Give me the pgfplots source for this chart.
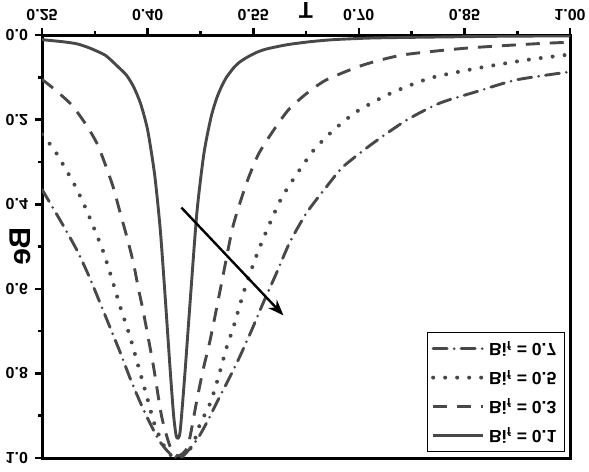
\documentclass[border=0pt]{standalone}
\usepackage{graphicx}
\usepackage{fontspec}
\setmainfont{Liberation Sans}
\usepackage{pgfplots}
\pgfplotsset{compat=1.18}
\usetikzlibrary{arrows.meta}
\definecolor{curve}{RGB}{72,72,72}
\begin{document}
\scalebox{1}[-1]{%
\begin{tikzpicture}
\begin{axis}[
  name=ax,
  scale only axis, width=264pt, height=211.5pt,
  xmin=0.25, xmax=1.0, ymin=0, ymax=1,
  xtick={0.25,0.40,0.55,0.70,0.85,1.00},
  ytick={0,0.2,0.4,0.6,0.8,1.0},
  minor x tick num=1, minor y tick num=1,
  xtick pos=bottom, ytick pos=left,
  tick align=outside,
  major tick length=3.5pt, minor tick length=2.2pt,
  axis line style={line width=1.5pt},
  major tick style={line width=1.3pt, black},
  minor tick style={line width=1.3pt, black},
  /pgf/number format/assume math mode=true,
  tick label style={font=\bfseries\fontsize{8}{9.5}\selectfont},
  xticklabel style={/pgf/number format/fixed, /pgf/number format/fixed zerofill, /pgf/number format/precision=2},
  yticklabel style={/pgf/number format/fixed, /pgf/number format/fixed zerofill, /pgf/number format/precision=1},
  xlabel={T}, ylabel={Be},
  xlabel style={font=\bfseries\fontsize{11.5}{13}\selectfont, at={([yshift=-16.5pt]axis description cs:0.5,0)}, anchor=base},
  ylabel style={font=\bfseries\fontsize{15}{17}\selectfont, at={([xshift=-11pt]axis description cs:0,0.5)}, anchor=center},
  legend style={at={(axis description cs:0.9905,0.9858)}, anchor=north east, draw=black, line width=0.6pt,
    font=\bfseries\fontsize{8.8}{10}\selectfont, row sep=2.6pt, inner sep=2pt},
  legend cell align=left,
  legend image code/.code={\draw[#1] (0pt,0pt) -- (25pt,0pt);},
]
\addplot[curve, line width=1.45pt, smooth, tension=0.4] coordinates {
(0.25,0.011) (0.28,0.016) (0.30,0.021) (0.318,0.031) (0.34,0.048) (0.356,0.072)
(0.37,0.095) (0.38,0.122) (0.39,0.162) (0.40,0.224) (0.41,0.33) (0.418,0.46)
(0.425,0.62) (0.432,0.79) (0.437,0.90) (0.441,0.95) (0.446,0.94) (0.453,0.80)
(0.460,0.64) (0.470,0.42) (0.480,0.28) (0.490,0.195) (0.498,0.150) (0.505,0.122)
(0.512,0.100) (0.522,0.078) (0.530,0.065) (0.541,0.053) (0.555,0.041) (0.569,0.033)
(0.598,0.023) (0.63,0.016) (0.664,0.011) (0.72,0.007) (0.80,0.005) (0.90,0.003) (1.00,0.002)};
\addlegendentry{Bi\textsubscript{f} = 0.1}
\addplot[curve, line width=1.45pt, smooth, tension=0.4, dash pattern=on 7pt off 5pt] coordinates {
(0.25,0.105) (0.266,0.126) (0.292,0.165) (0.313,0.213) (0.328,0.256) (0.339,0.302)
(0.351,0.359) (0.361,0.42) (0.371,0.48) (0.380,0.54) (0.387,0.600) (0.394,0.655)
(0.408,0.78) (0.420,0.902) (0.432,0.973) (0.443,0.995) (0.457,0.973) (0.470,0.863)
(0.479,0.79) (0.489,0.72) (0.505,0.587) (0.52,0.461) (0.531,0.398) (0.543,0.339)
(0.558,0.28) (0.579,0.225) (0.60,0.177) (0.626,0.138) (0.654,0.106) (0.706,0.071)
(0.763,0.047) (0.853,0.031) (0.948,0.021) (1.00,0.017)};
\addlegendentry{Bi\textsubscript{f} = 0.3}
\addplot[curve, line width=2pt, smooth, tension=0.4, line cap=round, dash pattern=on 0pt off 6pt] coordinates {
(0.25,0.235) (0.266,0.268) (0.276,0.295) (0.294,0.347) (0.309,0.398) (0.323,0.453)
(0.337,0.512) (0.349,0.575) (0.361,0.642) (0.375,0.713) (0.387,0.784) (0.399,0.855)
(0.411,0.926) (0.428,0.985) (0.443,1.0) (0.463,0.973) (0.474,0.922) (0.489,0.870)
(0.50,0.812) (0.512,0.74) (0.522,0.69) (0.538,0.60) (0.555,0.52) (0.571,0.455)
(0.59,0.386) (0.611,0.331) (0.636,0.272) (0.664,0.225) (0.697,0.181) (0.745,0.138)
(0.801,0.102) (0.867,0.079) (0.938,0.059) (1.00,0.046)};
\addlegendentry{Bi\textsubscript{f} = 0.5}
\addplot[curve, line width=1.45pt, smooth, tension=0.4, line cap=round, dash pattern=on 7pt off 3.5pt on 0pt off 3.5pt] coordinates {
(0.25,0.365) (0.266,0.41) (0.28,0.45) (0.30,0.51) (0.318,0.575) (0.339,0.66)
(0.361,0.75) (0.376,0.815) (0.394,0.885) (0.415,0.955) (0.432,0.99) (0.447,1.0)
(0.47,0.957) (0.486,0.91) (0.50,0.863) (0.517,0.808) (0.531,0.76) (0.548,0.697)
(0.564,0.634) (0.583,0.563) (0.602,0.49) (0.626,0.42) (0.654,0.359) (0.678,0.311)
(0.72,0.256) (0.768,0.201) (0.815,0.161) (0.867,0.134) (0.924,0.106) (1.00,0.087)};
\addlegendentry{Bi\textsubscript{f} = 0.7}
\addplot[black, line width=1.2pt, -{Stealth[length=8pt,width=6pt]}, forget plot] coordinates {(0.448,0.408) (0.593,0.663)};
\end{axis}
\pgfresetboundingbox
\path[use as bounding box] ([shift={(-21pt,-17.5pt)}]ax.south west) rectangle ([shift={(9.5pt,6.5pt)}]ax.north east);
\end{tikzpicture}}
\end{document}
